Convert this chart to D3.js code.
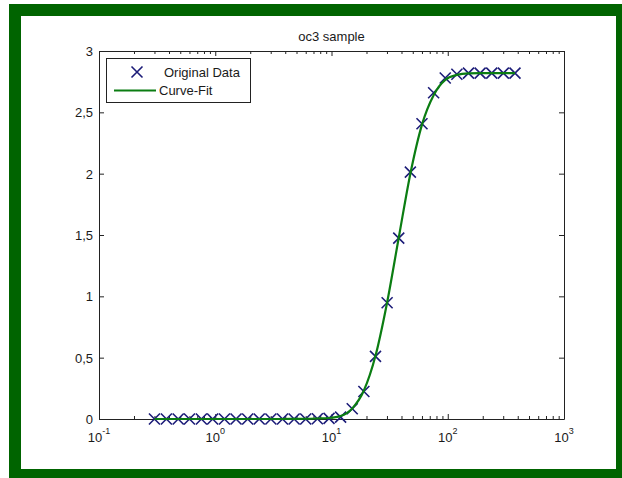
<!DOCTYPE html>
<html><head><meta charset="utf-8">
<script src="https://cdn.jsdelivr.net/npm/d3@7"></script>
<style>body{margin:0;background:#fff} svg{display:block} text{font-family:"Liberation Sans",Arial,sans-serif;fill:#1a1a1a}</style>
</head><body><svg id="c" width="622" height="478"></svg>
<script>
// ---- data ----
const xData = [0.30, 0.38, 0.48, 0.60, 0.76, 0.95, 1.20, 1.51, 1.90, 2.39, 3.01, 3.79, 4.77, 6.00, 7.56, 9.52,
               11.98, 15.08, 18.99, 23.90, 30.09, 37.88, 47.69, 60.04, 75.59, 95.16, 119.8, 150.8, 189.9, 239.0, 300.9, 378.8];
const yData = [0, 0, 0, 0, 0, 0, 0, 0, 0, 0, 0, 0, 0, 0, 0.002, 0.005,
               0.015, 0.084, 0.224, 0.51, 0.948, 1.474, 2.013, 2.407, 2.66, 2.78, 2.81, 2.82, 2.82, 2.82, 2.82, 2.82];
const xFit = [0.30, 0.38, 0.48, 0.60, 0.76, 0.95, 1.20, 1.51, 1.90, 2.39, 3.01, 3.79, 4.77, 6.00, 7.56, 9.52,
              11.98, 15.08, 18.99, 23.90, 30.09, 37.88, 47.69, 60.04, 75.59, 95.16, 119.8, 150.8, 189.9, 239.0, 300.9, 378.8];
const yFit = [0, 0, 0, 0, 0, 0, 0, 0, 0, 0, 0, 0, 0.001, 0.002, 0.004, 0.008,
              0.024, 0.086, 0.232, 0.515, 0.95, 1.478, 2.0, 2.40, 2.64, 2.765, 2.805, 2.818, 2.82, 2.82, 2.82, 2.82];
const xMajorTicks = [0.1, 1, 10, 100, 1000];
const xTickExponents = ["-1", "0", "1", "2", "3"];
const yTicks = [0, 0.5, 1, 1.5, 2, 2.5, 3];
const yTickLabels = ["0", "0,5", "1", "1,5", "2", "2,5", "3"];
const chartTitle = "oc3 sample";
const legendLabels = ["Original Data", "Curve-Fit"];

// ---- drawing ----
const svg = d3.select("#c");
svg.append("rect").attr("x", 0).attr("y", 0).attr("width", 622).attr("height", 478).attr("fill", "#fff");
svg.append("rect").attr("x", 9).attr("y", 4).attr("width", 613).attr("height", 474).attr("fill", "#006400");
svg.append("rect").attr("x", 21).attr("y", 16).attr("width", 595).attr("height", 453).attr("fill", "#fff");

const L = 99, R = 564, T = 51, B = 419;
const x = d3.scaleLog().domain([0.1, 1000]).range([L, R]);
const y = d3.scaleLinear().domain([0, 3]).range([B, T]);

const minorTicks = x.ticks().filter(v => !xMajorTicks.some(m => Math.abs(m - v) / m < 1e-9));
const axisColor = "#222";

function styleAxis(g) {
  g.selectAll("path,line").attr("stroke", axisColor);
  g.selectAll("text").remove();
}
// bottom
svg.append("g").attr("transform", `translate(0,${B})`)
  .call(d3.axisBottom(x).tickValues(xMajorTicks).tickSizeInner(-5).tickSizeOuter(0).tickFormat(""))
  .call(styleAxis);
svg.append("g").attr("transform", `translate(0,${B})`)
  .call(d3.axisBottom(x).tickValues(minorTicks).tickSizeInner(-3).tickSizeOuter(0).tickFormat(""))
  .call(g => g.select(".domain").remove()).call(styleAxis);
// top
svg.append("g").attr("transform", `translate(0,${T})`)
  .call(d3.axisTop(x).tickValues(xMajorTicks).tickSizeInner(-5).tickSizeOuter(0).tickFormat(""))
  .call(styleAxis);
svg.append("g").attr("transform", `translate(0,${T})`)
  .call(d3.axisTop(x).tickValues(minorTicks).tickSizeInner(-3).tickSizeOuter(0).tickFormat(""))
  .call(g => g.select(".domain").remove()).call(styleAxis);
// left / right
svg.append("g").attr("transform", `translate(${L},0)`)
  .call(d3.axisLeft(y).tickValues(yTicks).tickSizeInner(-5).tickSizeOuter(0).tickFormat(""))
  .call(styleAxis);
svg.append("g").attr("transform", `translate(${R},0)`)
  .call(d3.axisRight(y).tickValues(yTicks).tickSizeInner(-5).tickSizeOuter(0).tickFormat(""))
  .call(styleAxis);

// y tick labels
svg.append("g").selectAll("text").data(yTicks).join("text")
  .attr("x", L - 6).attr("y", d => y(d) + 0.5).attr("dy", "0.35em")
  .attr("text-anchor", "end").attr("font-size", 13)
  .text((d, i) => yTickLabels[i]);

// x tick labels 10^n
const xl = svg.append("g").selectAll("text").data(xMajorTicks).join("text")
  .attr("x", d => x(d)).attr("y", 442)
  .attr("text-anchor", "middle").attr("font-size", 13);
xl.append("tspan").text("10");
xl.append("tspan").attr("dy", -8).attr("font-size", 9).text((d, i) => xTickExponents[i]);

// title
svg.append("text").attr("x", (L + R) / 2).attr("y", 41).attr("text-anchor", "middle")
  .attr("font-size", 13).text(chartTitle);

// markers
const markerColor = "#1c1c78";
const markerPath = "M-5.5,-5.5L5.5,5.5M-5.5,5.5L5.5,-5.5";
svg.append("g").selectAll("path").data(xData.map((v, i) => [v, yData[i]])).join("path")
  .attr("transform", d => `translate(${x(d[0])},${y(d[1])})`)
  .attr("d", markerPath).attr("stroke", markerColor).attr("stroke-width", 1.6).attr("fill", "none");

// fit line
const fitColor = "#0b7d12";
const line = d3.line().x(d => x(d[0])).y(d => y(d[1])).curve(d3.curveMonotoneX);
svg.append("path").datum(xFit.map((v, i) => [v, yFit[i]]))
  .attr("d", line).attr("fill", "none").attr("stroke", fitColor).attr("stroke-width", 2.2);

// legend
const lg = svg.append("g");
lg.append("rect").attr("x", 106.5).attr("y", 58.5).attr("width", 144).attr("height", 44)
  .attr("fill", "#fff").attr("stroke", axisColor).attr("stroke-width", 1);
lg.append("path").attr("transform", "translate(137,72)").attr("d", markerPath)
  .attr("stroke", markerColor).attr("stroke-width", 1.6).attr("fill", "none");
lg.append("line").attr("x1", 114).attr("x2", 156).attr("y1", 90.5).attr("y2", 90.5)
  .attr("stroke", fitColor).attr("stroke-width", 2.2);
lg.append("text").attr("x", 164).attr("y", 72).attr("dy", "0.35em").attr("font-size", 13).text(legendLabels[0]);
lg.append("text").attr("x", 159).attr("y", 90.5).attr("dy", "0.35em").attr("font-size", 13).text(legendLabels[1]);
</script></body></html>
